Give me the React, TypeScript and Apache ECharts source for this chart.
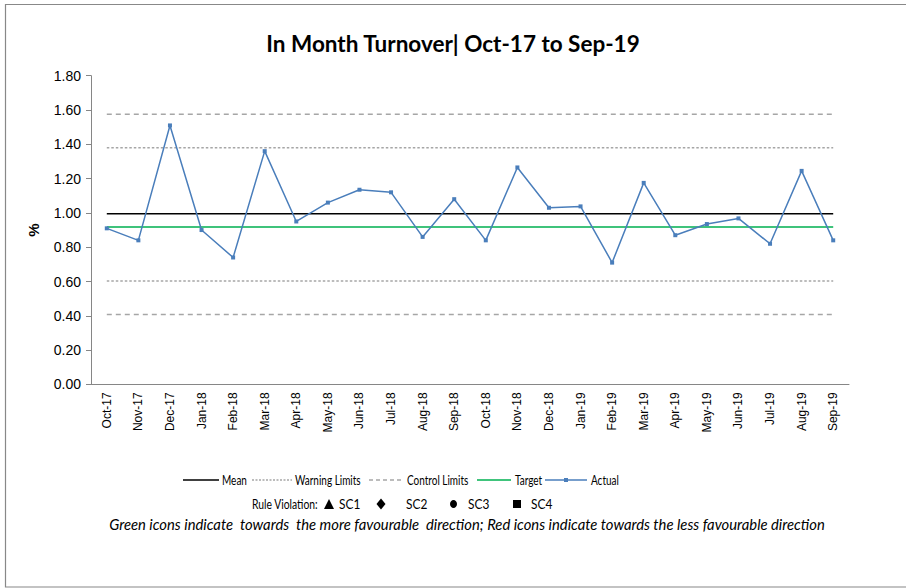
import React, { useEffect, useRef } from "react";
import * as echarts from "echarts";

// Months on the x axis
const months = [
  "Oct-17", "Nov-17", "Dec-17", "Jan-18", "Feb-18", "Mar-18", "Apr-18", "May-18",
  "Jun-18", "Jul-18", "Aug-18", "Sep-18", "Oct-18", "Nov-18", "Dec-18", "Jan-19",
  "Feb-19", "Mar-19", "Apr-19", "May-19", "Jun-19", "Jul-19", "Aug-19", "Sep-19",
];

// Monthly turnover (%)
const actual = [
  0.91, 0.84, 1.51, 0.9, 0.74, 1.36, 0.95, 1.06,
  1.135, 1.12, 0.86, 1.08, 0.84, 1.265, 1.03, 1.038,
  0.71, 1.175, 0.87, 0.935, 0.968, 0.82, 1.245, 0.84,
];

// Process limits
const MEAN = 0.995;
const TARGET = 0.918;
const UPPER_WARNING = 1.38;
const LOWER_WARNING = 0.603;
const UPPER_CONTROL = 1.575;
const LOWER_CONTROL = 0.408;

const yTicks = { min: 0, max: 1.8, interval: 0.2 };

const SANS = "Lato, 'Open Sans', sans-serif";
const ARIAL = "'Liberation Sans', Arial, sans-serif";

const flat = (v: number) => months.map(() => v);

export default function App() {
  const ref = useRef<HTMLDivElement>(null);

  useEffect(() => {
    if (!ref.current) return;
    const chart = echarts.init(ref.current, undefined, { renderer: "svg" });

    // condensed label text, scaled horizontally about its left edge
    const label = (x: number, y: number, text: string, size: number, squeeze: number) => ({
      type: "text",
      x,
      y,
      scaleX: squeeze,
      style: { text, fill: "#000", font: `${size}px ${SANS}`, textVerticalAlign: "middle" },
    });

    const legendY = 480;
    const legendLine = (x1: number, x2: number, stroke: string, lineDash?: number[]) => ({
      type: "line",
      shape: { x1, y1: legendY, x2, y2: legendY },
      style: { stroke, lineWidth: 1.5, lineDash },
    });
    const legendText = (x: number, text: string) => label(x, legendY, text, 13.5, 0.74);

    const ruleY = 504;

    chart.setOption({
      animation: false,
      backgroundColor: "#fff",
      title: {
        text: "In Month Turnover| Oct-17 to Sep-19",
        left: "center",
        top: 27,
        textStyle: { fontFamily: SANS, fontWeight: "bold", fontSize: 22.5, color: "#000" },
      },
      grid: { left: 91, right: 57, top: 75.7, bottom: 203.6 },
      xAxis: {
        type: "category",
        data: months,
        boundaryGap: true,
        axisLine: { lineStyle: { color: "#868686", width: 1 } },
        axisTick: { alignWithLabel: false, length: 5, lineStyle: { color: "#868686" } },
        axisLabel: { rotate: 90, fontSize: 12, fontFamily: ARIAL, color: "#000", margin: 8, interval: 0 },
      },
      yAxis: {
        type: "value",
        min: yTicks.min,
        max: yTicks.max,
        interval: yTicks.interval,
        name: "%",
        nameLocation: "middle",
        nameRotate: 90,
        nameGap: 50,
        nameTextStyle: { fontFamily: ARIAL, fontWeight: "bold", fontSize: 15, color: "#000" },
        axisLine: { show: true, lineStyle: { color: "#868686", width: 1 } },
        axisTick: { show: true, length: 5, lineStyle: { color: "#868686" } },
        splitLine: { show: false },
        axisLabel: {
          fontSize: 14,
          fontFamily: ARIAL,
          color: "#000",
          margin: 10,
          formatter: (v: number) => v.toFixed(2),
        },
      },
      series: [
        {
          name: "Upper Control",
          type: "line",
          data: flat(UPPER_CONTROL),
          symbol: "none",
          lineStyle: { color: "#a6a6a6", width: 1.5, type: [5, 4] },
        },
        {
          name: "Upper Warning",
          type: "line",
          data: flat(UPPER_WARNING),
          symbol: "none",
          lineStyle: { color: "#a6a6a6", width: 1.5, type: [2.5, 2] },
        },
        {
          name: "Lower Warning",
          type: "line",
          data: flat(LOWER_WARNING),
          symbol: "none",
          lineStyle: { color: "#a6a6a6", width: 1.5, type: [2.5, 2] },
        },
        {
          name: "Lower Control",
          type: "line",
          data: flat(LOWER_CONTROL),
          symbol: "none",
          lineStyle: { color: "#a6a6a6", width: 1.5, type: [5, 4] },
        },
        {
          name: "Target",
          type: "line",
          data: flat(TARGET),
          symbol: "none",
          lineStyle: { color: "#00b050", width: 1.5 },
        },
        {
          name: "Mean",
          type: "line",
          data: flat(MEAN),
          symbol: "none",
          lineStyle: { color: "#000", width: 1.5 },
        },
        {
          name: "Actual",
          type: "line",
          data: actual,
          symbol: "rect",
          symbolSize: 4,
          itemStyle: { color: "#4a7ebb" },
          lineStyle: { color: "#4a7ebb", width: 1.5 },
        },
      ],
      graphic: [
        {
          type: "rect",
          shape: { x: 5.5, y: 4.5, width: 920, height: 582.5 },
          style: { fill: "none", stroke: "#888", lineWidth: 1.2 },
          silent: true,
        },
        legendLine(183, 219, "#000"),
        legendText(222, "Mean"),
        legendLine(252, 292, "#a6a6a6", [2, 1.5]),
        legendText(295, "Warning Limits"),
        legendLine(369, 401, "#a6a6a6", [4, 3]),
        legendText(407, "Control Limits"),
        legendLine(477, 511, "#00b050"),
        legendText(515, "Target"),
        legendLine(545, 587, "#4a7ebb"),
        {
          type: "rect",
          shape: { x: 564, y: legendY - 2, width: 4, height: 4 },
          style: { fill: "#4a7ebb" },
        },
        legendText(591, "Actual"),
        label(252, ruleY, "Rule Violation:", 14, 0.74),
        {
          type: "polygon",
          shape: { points: [[329, ruleY - 5], [334, ruleY + 5], [324, ruleY + 5]] },
          style: { fill: "#000" },
        },
        label(339, ruleY, "SC1", 14, 0.85),
        {
          type: "polygon",
          shape: { points: [[381, ruleY - 5.5], [385.5, ruleY], [381, ruleY + 5.5], [376.5, ruleY]] },
          style: { fill: "#000" },
        },
        label(406, ruleY, "SC2", 14, 0.85),
        {
          type: "ellipse",
          shape: { cx: 453.5, cy: ruleY, rx: 3.5, ry: 4 },
          style: { fill: "#000" },
        },
        label(468, ruleY, "SC3", 14, 0.85),
        {
          type: "rect",
          shape: { x: 513, y: ruleY - 4, width: 8, height: 8 },
          style: { fill: "#000" },
        },
        label(531, ruleY, "SC4", 14, 0.85),
        {
          type: "text",
          x: 467,
          y: 524,
          style: {
            text: "Green icons indicate  towards  the more favourable  direction; Red icons indicate towards the less favourable direction",
            fill: "#000",
            font: `italic 14.8px ${SANS}`,
            textAlign: "center",
            textVerticalAlign: "middle",
          },
        },
      ],
    });

    return () => chart.dispose();
  }, []);

  return (
    <div
      ref={ref}
      style={{ position: "fixed", left: 0, top: 0, width: 906, height: 588 }}
    />
  );
}
